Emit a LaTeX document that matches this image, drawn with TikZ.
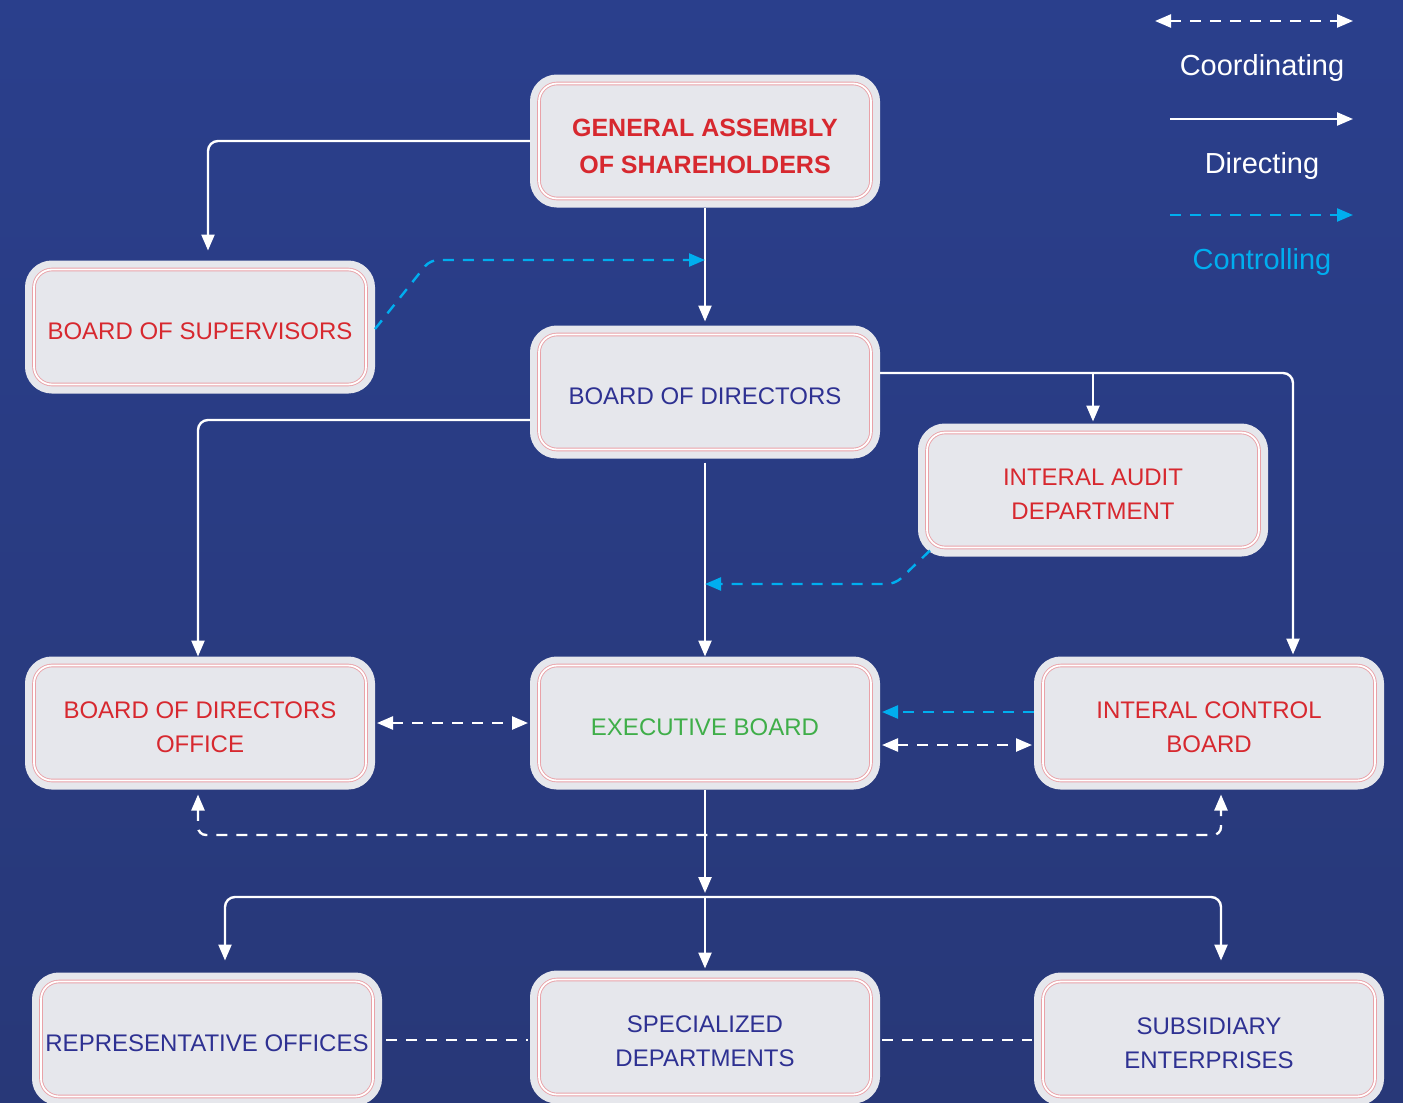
\documentclass[tikz,border=0pt]{standalone}
\usepackage{fontspec}
\setmainfont{Liberation Sans}
\usetikzlibrary{arrows.meta}
\definecolor{bgc}{HTML}{283878}
\definecolor{bgtop}{HTML}{2A3F8C}
\definecolor{boxgray}{HTML}{E6E7EC}
\definecolor{pinkc}{HTML}{E9A2A8}
\definecolor{redc}{HTML}{D7282F}
\definecolor{navyc}{HTML}{2E3192}
\definecolor{greenc}{HTML}{3FAE49}
\definecolor{cyanc}{HTML}{00AEEF}
\newcommand{\tup}[1]{\rule{0pt}{#1}}
\tikzset{
  orgbox/.style={rounded corners=9pt, preaction={draw=boxgray, fill=boxgray, line width=9pt},
    draw=pinkc, line width=0.45pt, double=white, double distance=0.9pt,
    minimum width=166pt, minimum height=57.5pt, outer sep=4.5pt, align=center,
    font=\fontsize{12}{17}\selectfont, inner sep=0pt},
  dir/.style={draw=white, line width=1.2pt, -{Triangle[length=8pt,width=6.5pt]}},
  coordl/.style={draw=white, line width=1.2pt, dash pattern=on 5.5pt off 4.5pt, {Triangle[length=8pt,width=6.5pt]}-{Triangle[length=8pt,width=6.5pt]}},
  plaind/.style={draw=white, line width=1.2pt, dash pattern=on 5.5pt off 4.5pt},
  ctrl/.style={draw=cyanc, line width=1.2pt, dash pattern=on 5.5pt off 4.5pt, -{Triangle[length=8pt,width=6.5pt]}},
  legtext/.style={font=\fontsize{14.5}{17}\selectfont}
}
\begin{document}
\begin{tikzpicture}[x=0.5pt,y=-0.5pt]
\useasboundingbox (0,0) rectangle (1403,1103);
\shade[top color=bgtop, bottom color=bgc] (0,0) rectangle (1403,1103);

% boxes
\node[orgbox, text=redc, font=\fontsize{12.5}{18.5}\selectfont\bfseries] (GA) at (705,141) {\tup{13.8pt}GENERAL ASSEMBLY\\OF SHAREHOLDERS};
\node[orgbox, text=redc] (BoS) at (200,327) {\tup{12.2pt}BOARD OF SUPERVISORS};
\node[orgbox, text=navyc] (BoD) at (705,392) {\tup{12.2pt}BOARD OF DIRECTORS};
\node[orgbox, text=redc] (IAD) at (1093,490) {\tup{12.6pt}INTERAL AUDIT\\DEPARTMENT};
\node[orgbox, text=redc] (BoDO) at (200,723) {\tup{12.6pt}BOARD OF DIRECTORS\\OFFICE};
\node[orgbox, text=greenc] (EB) at (705,723) {\tup{12.2pt}EXECUTIVE BOARD};
\node[orgbox, text=redc] (ICB) at (1209,723) {\tup{12.6pt}INTERAL CONTROL\\BOARD};
\node[orgbox, text=navyc] (RO) at (207,1039) {\tup{12.2pt}REPRESENTATIVE OFFICES};
\node[orgbox, text=navyc] (SD) at (705,1037) {\tup{12.2pt}SPECIALIZED\\DEPARTMENTS};
\node[orgbox, text=navyc] (SE) at (1209,1039) {\tup{12.2pt}SUBSIDIARY\\ENTERPRISES};

% directing
\draw[dir, rounded corners=5pt, shorten >=5pt] (GA.west) -| ([xshift=4pt]BoS.north);
\draw[dir, shorten >=2pt] (GA.south) -- (BoD.north);
\coordinate (c2) at (1093,373);
\draw[dir, rounded corners=5pt, shorten >=1pt] ([yshift=9.5pt]BoD.east) -| ([xshift=42pt]ICB.north);
\draw[dir, shorten >=1pt] (c2) -- (IAD.north);
\draw[dir, rounded corners=5pt] ([yshift=-14pt]BoD.west) -| ([xshift=-1pt]BoDO.north);
\draw[dir, shorten <=2pt] (BoD.south) -- (EB.north);

% controlling
\coordinate (c1) at (430,260);
\draw[ctrl, rounded corners=4pt] ([yshift=-1pt]BoS.east) -- (c1) -- (c1 -| GA.south);
\coordinate (c3) at (895,584);
\draw[ctrl, rounded corners=4pt] ([xshift=6pt,yshift=3pt]IAD.south west) -- (c3) -- (c3 -| EB.north);
\draw[ctrl, shorten >=1pt] ([yshift=5.5pt]ICB.west) -- ([yshift=5.5pt]EB.east);

% coordinating
\draw[coordl, shorten <=1pt, shorten >=1pt] (BoDO.east) -- (EB.west);
\draw[coordl, shorten <=1pt, shorten >=1pt] ([yshift=-11pt]EB.east) -- ([yshift=-11pt]ICB.west);
\coordinate (c4) at (705,835);
\draw[coordl, rounded corners=4pt, shorten <=2.5pt, shorten >=2.5pt] ([xshift=-1pt]BoDO.south) |- (c4) -| ([xshift=6pt]ICB.south);

% lower level
\coordinate (c5) at (705,897);
\draw[dir, shorten >=2pt] (EB.south) -- (c5);
\draw[dir, rounded corners=5pt, shorten >=6pt] (c5) -| ([xshift=9pt]RO.north);
\draw[dir, rounded corners=5pt, shorten >=6pt] (c5) -| ([xshift=6pt]SE.north);
\draw[dir, shorten >=1pt] (c5) -- (SD.north);
\coordinate (c6) at (705,1040);
\draw[plaind, shorten <=2pt, shorten >=1pt] (RO.east |- c6) -- (SD.west |- c6);
\draw[plaind, shorten <=1pt, shorten >=1pt] (SD.east |- c6) -- (SE.west |- c6);

% legend
\coordinate (l1a) at (1155,21); \coordinate (l1b) at (1353,21);
\draw[coordl] (l1a) -- (l1b);
\node[legtext, text=white] (L1) at (1262,68) {Coordinating};
\coordinate (l2a) at (1170,119); \coordinate (l2b) at (1353,119);
\draw[dir] (l2a) -- (l2b);
\node[legtext, text=white] (L2) at (1262,166) {Directing};
\coordinate (l3a) at (1170,215); \coordinate (l3b) at (1353,215);
\draw[ctrl] (l3a) -- (l3b);
\node[legtext, text=cyanc] (L3) at (1262,262) {Controlling};
\end{tikzpicture}
\end{document}
